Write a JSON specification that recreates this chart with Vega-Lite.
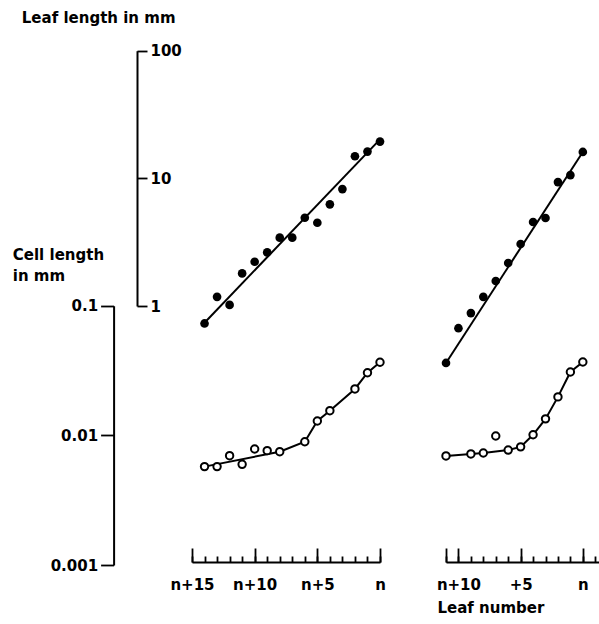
{
  "$schema": "https://vega.github.io/schema/vega-lite/v6.json",
  "autosize": {"type": "pad"},
  "padding": {"left": 12, "top": 10, "right": 0, "bottom": 5},
  "background": "white",
  "bounds": "flush",
  "spacing": 66,
  "config": {
    "view": {"stroke": null},
    "font": "DejaVu Sans",
    "axis": {
      "labelFont": "DejaVu Sans", "labelFontSize": 15, "labelFontWeight": "bold", "labelColor": "black",
      "titleFont": "DejaVu Sans", "titleFontSize": 15, "titleFontWeight": "bold", "titleColor": "black",
      "domainColor": "black", "tickColor": "black", "domainWidth": 2, "tickWidth": 1.8,
      "grid": false, "labelFlush": false, "labelOverlap": false
    }
  },
  "datasets": {
    "d": [
      {"panel": "A", "series": "leaf", "k": 14, "v": 0.73},
      {"panel": "A", "series": "leaf", "k": 13, "v": 1.18},
      {"panel": "A", "series": "leaf", "k": 12, "v": 1.02},
      {"panel": "A", "series": "leaf", "k": 11, "v": 1.80},
      {"panel": "A", "series": "leaf", "k": 10, "v": 2.22},
      {"panel": "A", "series": "leaf", "k": 9, "v": 2.63},
      {"panel": "A", "series": "leaf", "k": 8, "v": 3.43},
      {"panel": "A", "series": "leaf", "k": 7, "v": 3.43},
      {"panel": "A", "series": "leaf", "k": 6, "v": 4.91},
      {"panel": "A", "series": "leaf", "k": 5, "v": 4.49},
      {"panel": "A", "series": "leaf", "k": 4, "v": 6.26},
      {"panel": "A", "series": "leaf", "k": 3, "v": 8.24},
      {"panel": "A", "series": "leaf", "k": 2, "v": 14.9},
      {"panel": "A", "series": "leaf", "k": 1, "v": 16.2},
      {"panel": "A", "series": "leaf", "k": 0, "v": 19.4},
      {"panel": "A", "series": "leafFit", "k": 14, "v": 0.74},
      {"panel": "A", "series": "leafFit", "k": 0, "v": 20.2},
      {"panel": "A", "series": "cell", "k": 14, "v": 0.00574},
      {"panel": "A", "series": "cell", "k": 13, "v": 0.00574},
      {"panel": "A", "series": "cell", "k": 12, "v": 0.00697},
      {"panel": "A", "series": "cell", "k": 11, "v": 0.00598},
      {"panel": "A", "series": "cell", "k": 10, "v": 0.00785},
      {"panel": "A", "series": "cell", "k": 9, "v": 0.00762},
      {"panel": "A", "series": "cell", "k": 8, "v": 0.00748},
      {"panel": "A", "series": "cell", "k": 6, "v": 0.00893},
      {"panel": "A", "series": "cell", "k": 5, "v": 0.0129},
      {"panel": "A", "series": "cell", "k": 4, "v": 0.0155},
      {"panel": "A", "series": "cell", "k": 2, "v": 0.0228},
      {"panel": "A", "series": "cell", "k": 1, "v": 0.0304},
      {"panel": "A", "series": "cell", "k": 0, "v": 0.0366},
      {"panel": "A", "series": "cellFit", "k": 14, "v": 0.00574},
      {"panel": "A", "series": "cellFit", "k": 8, "v": 0.00748},
      {"panel": "A", "series": "cellFit", "k": 6, "v": 0.00893},
      {"panel": "A", "series": "cellFit", "k": 5, "v": 0.0129},
      {"panel": "A", "series": "cellFit", "k": 4, "v": 0.0155},
      {"panel": "A", "series": "cellFit", "k": 2, "v": 0.0228},
      {"panel": "A", "series": "cellFit", "k": 1, "v": 0.0304},
      {"panel": "A", "series": "cellFit", "k": 0, "v": 0.0366},
      {"panel": "B", "series": "leaf", "k": 11, "v": 0.358},
      {"panel": "B", "series": "leaf", "k": 10, "v": 0.67},
      {"panel": "B", "series": "leaf", "k": 9, "v": 0.88},
      {"panel": "B", "series": "leaf", "k": 8, "v": 1.18},
      {"panel": "B", "series": "leaf", "k": 7, "v": 1.57},
      {"panel": "B", "series": "leaf", "k": 6, "v": 2.17},
      {"panel": "B", "series": "leaf", "k": 5, "v": 3.06},
      {"panel": "B", "series": "leaf", "k": 4, "v": 4.55},
      {"panel": "B", "series": "leaf", "k": 3, "v": 4.89},
      {"panel": "B", "series": "leaf", "k": 2, "v": 9.35},
      {"panel": "B", "series": "leaf", "k": 1, "v": 10.6},
      {"panel": "B", "series": "leaf", "k": 0, "v": 16.1},
      {"panel": "B", "series": "leafFit", "k": 11, "v": 0.358},
      {"panel": "B", "series": "leafFit", "k": 0, "v": 16.1},
      {"panel": "B", "series": "cell", "k": 11, "v": 0.00694},
      {"panel": "B", "series": "cell", "k": 9, "v": 0.00719},
      {"panel": "B", "series": "cell", "k": 8, "v": 0.00731},
      {"panel": "B", "series": "cell", "k": 7, "v": 0.00989},
      {"panel": "B", "series": "cell", "k": 6, "v": 0.0077},
      {"panel": "B", "series": "cell", "k": 5, "v": 0.00815},
      {"panel": "B", "series": "cell", "k": 4, "v": 0.0101},
      {"panel": "B", "series": "cell", "k": 3, "v": 0.0134},
      {"panel": "B", "series": "cell", "k": 2, "v": 0.0198},
      {"panel": "B", "series": "cell", "k": 1, "v": 0.0308},
      {"panel": "B", "series": "cell", "k": 0, "v": 0.0368},
      {"panel": "B", "series": "cellFit", "k": 11, "v": 0.00694},
      {"panel": "B", "series": "cellFit", "k": 8, "v": 0.00731},
      {"panel": "B", "series": "cellFit", "k": 6, "v": 0.0077},
      {"panel": "B", "series": "cellFit", "k": 5, "v": 0.00815},
      {"panel": "B", "series": "cellFit", "k": 4, "v": 0.0101},
      {"panel": "B", "series": "cellFit", "k": 3, "v": 0.0134},
      {"panel": "B", "series": "cellFit", "k": 2, "v": 0.0198},
      {"panel": "B", "series": "cellFit", "k": 1, "v": 0.0308},
      {"panel": "B", "series": "cellFit", "k": 0, "v": 0.0368}
    ]
  },
  "hconcat": [
    {
      "width": 188,
      "height": 522,
      "data": {"name": "d"},
      "layer": [
        {
          "transform": [{"filter": "datum.panel == 'A' && datum.series == 'leafFit'"}],
          "mark": {"type": "line", "color": "black", "strokeWidth": 2},
          "encoding": {
            "x": {"field": "k", "type": "quantitative",
                  "scale": {"domain": [0, 15], "reverse": true, "nice": false, "zero": false},
                  "axis": {"orient": "bottom", "values": [0,1,2,3,4,5,6,7,8,9,10,11,12,13,14,15], "tickSize": -6, "labels": false, "title": null, "domain": true}},
            "y": {"field": "v", "type": "quantitative",
                  "scale": {"type": "log", "domain": [1, 100], "range": [266, 10.7], "nice": false},
                  "axis": {"orient": "right", "offset": -243, "values": [1, 10, 100], "format": "~g", "tickSize": 10, "labelPadding": 3,
                           "labelAlign": "left", "labelBaseline": "middle",
                           "title": "Leaf length in mm", "titleAngle": 0, "titleX": -115.7, "titleY": -30, "titleAlign": "left", "titleBaseline": "top"}}
          }
        },
        {
          "transform": [{"filter": "datum.panel == 'A' && datum.series == 'leaf'"}],
          "mark": {"type": "point", "shape": "circle", "filled": true, "color": "black", "size": 75, "opacity": 1},
          "encoding": {
            "x": {"field": "k", "type": "quantitative", "axis": null},
            "y": {"field": "v", "type": "quantitative",
                  "scale": {"type": "log", "domain": [1, 100], "range": [266, 10.7], "nice": false}, "axis": null}
          }
        },
        {
          "transform": [{"filter": "datum.panel == 'A' && datum.series == 'cellFit'"}],
          "mark": {"type": "line", "color": "black", "strokeWidth": 2},
          "encoding": {
            "x": {"field": "k", "type": "quantitative",
                  "axis": {"orient": "bottom", "values": [0, 5, 10, 15], "tickSize": -14, "domain": false, "labelPadding": 29,
                           "labelExpr": "datum.value == 0 ? 'n' : 'n+' + datum.value", "title": null}},
            "y": {"field": "v", "type": "quantitative",
                  "scale": {"type": "log", "domain": [0.001, 0.1], "range": [525, 265.7], "nice": false},
                  "axis": {"orient": "left", "offset": 78.4, "values": [0.001, 0.01, 0.1], "format": "~g", "tickSize": 13, "labelPadding": 3,
                           "title": ["Cell length", "in mm"], "titleAngle": 0, "titleX": -101.3, "titleY": 207, "titleAlign": "left", "titleBaseline": "top", "titleLineHeight": 21}}
          }
        },
        {
          "transform": [{"filter": "datum.panel == 'A' && datum.series == 'cell'"}],
          "mark": {"type": "point", "shape": "circle", "filled": true, "fill": "white", "stroke": "black", "strokeWidth": 2, "size": 55, "opacity": 1},
          "encoding": {
            "x": {"field": "k", "type": "quantitative", "axis": null},
            "y": {"field": "v", "type": "quantitative",
                  "scale": {"type": "log", "domain": [0.001, 0.1], "range": [525, 265.7], "nice": false}, "axis": null}
          }
        }
      ],
      "resolve": {"scale": {"y": "independent"}, "axis": {"x": "independent", "y": "independent"}}
    },
    {
      "width": 153,
      "height": 522,
      "data": {"name": "d"},
      "layer": [
        {
          "transform": [{"filter": "datum.panel == 'B' && datum.series == 'leafFit'"}],
          "mark": {"type": "line", "color": "black", "strokeWidth": 2},
          "encoding": {
            "x": {"field": "k", "type": "quantitative",
                  "scale": {"domain": [-1.3, 11], "reverse": true, "nice": false, "zero": false},
                  "axis": {"orient": "bottom", "values": [-1,0,1,2,3,4,5,6,7,8,9,10,11], "tickSize": -6, "labels": false, "title": null, "domain": true}},
            "y": {"field": "v", "type": "quantitative",
                  "scale": {"type": "log", "domain": [1, 100], "range": [266, 10.7], "nice": false}, "axis": null}
          }
        },
        {
          "transform": [{"filter": "datum.panel == 'B' && datum.series == 'leaf'"}],
          "mark": {"type": "point", "shape": "circle", "filled": true, "color": "black", "size": 75, "opacity": 1},
          "encoding": {
            "x": {"field": "k", "type": "quantitative", "axis": null},
            "y": {"field": "v", "type": "quantitative",
                  "scale": {"type": "log", "domain": [1, 100], "range": [266, 10.7], "nice": false}, "axis": null}
          }
        },
        {
          "transform": [{"filter": "datum.panel == 'B' && datum.series == 'cellFit'"}],
          "mark": {"type": "line", "color": "black", "strokeWidth": 2},
          "encoding": {
            "x": {"field": "k", "type": "quantitative",
                  "axis": {"orient": "bottom", "values": [0, 5, 10, 11], "tickSize": -14, "domain": false, "labelPadding": 29,
                           "labelExpr": "datum.value == 0 ? 'n' : datum.value == 5 ? '+5' : datum.value == 10 ? 'n+10' : ''",
                           "title": "Leaf number", "titleX": -9, "titleY": 38, "titleAlign": "left", "titleBaseline": "top"}},
            "y": {"field": "v", "type": "quantitative",
                  "scale": {"type": "log", "domain": [0.001, 0.1], "range": [525, 265.7], "nice": false}, "axis": null}
          }
        },
        {
          "transform": [{"filter": "datum.panel == 'B' && datum.series == 'cell'"}],
          "mark": {"type": "point", "shape": "circle", "filled": true, "fill": "white", "stroke": "black", "strokeWidth": 2, "size": 55, "opacity": 1},
          "encoding": {
            "x": {"field": "k", "type": "quantitative", "axis": null},
            "y": {"field": "v", "type": "quantitative",
                  "scale": {"type": "log", "domain": [0.001, 0.1], "range": [525, 265.7], "nice": false}, "axis": null}
          }
        }
      ],
      "resolve": {"scale": {"y": "independent"}, "axis": {"x": "independent", "y": "independent"}}
    }
  ]
}
